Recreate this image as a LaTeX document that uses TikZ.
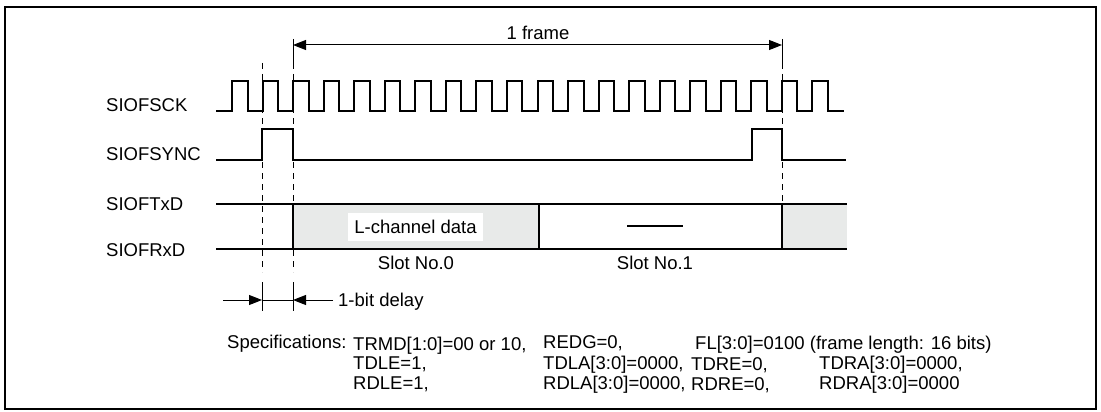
\documentclass[tikz,border=0pt]{standalone}
\usepackage{fontspec}
\setmainfont{Liberation Sans}
\usetikzlibrary{arrows.meta}
\definecolor{shadegray}{RGB}{232,234,233}
\begin{document}
\begin{tikzpicture}[x=1pt,y=-1pt,
  sig/.style={line width=2pt},
  thinline/.style={line width=1pt},
  dashline/.style={line width=1pt, dash pattern=on 6pt off 5pt},
  dimarrow/.style={line width=1pt, -{Triangle[length=13pt,width=10pt]}},
  lbl/.style={font=\fontsize{18.5pt}{20pt}\selectfont, inner sep=0pt, anchor=base west},
  lblc/.style={font=\fontsize{18.5pt}{20pt}\selectfont, inner sep=0pt, anchor=base},
]
\useasboundingbox (0,0) rectangle (1101,412);
\draw[line width=2pt] (5,7) rectangle (1096,409);

% signal names
\node[lbl] (nsck)  at (106,111.5) {SIOFSCK};
\node[lbl] (nsync) at (106,160.5) {SIOFSYNC};
\node[lbl] (ntxd)  at (106,210) {SIOFTxD};
\node[lbl] (nrxd)  at (106,256) {SIOFRxD};

% frame dimension
\coordinate (fL) at (293,45);
\coordinate (fR) at (782,45);
\draw[line width=1pt, {Triangle[length=13pt,width=10pt]}-{Triangle[length=13pt,width=10pt]}] (fL) -- (fR);
\node[lblc] (nframe) at (538,40) {1 frame};
\draw[thinline] (293,39) -- (293,63);
\draw[thinline] (782,39) -- (782,63);

% dashed guides
\draw[dashline] (262,63) -- (262,272);
\draw[dashline] (293,63) -- (293,272);
\draw[dashline] (782,63) -- (782,204);

% clock
\draw[sig] (216,111)
  \foreach \k in {0,...,19} { -- ({232+30.55*\k},111) -- ({232+30.55*\k},81) -- ({247.5+30.55*\k},81) -- ({247.5+30.55*\k},111) }
  -- (844,111);

% sync
\draw[sig] (216,160) -- (262,160) -- (262,129) -- (293,129) -- (293,160) -- (752,160) -- (752,129) -- (782,129) -- (782,160) -- (846,160);

% data
\fill[shadegray] (293,204) rectangle (539,249);
\fill[shadegray] (782,204) rectangle (847,249);
\draw[sig] (216,204) -- (847,204);
\draw[sig] (216,249) -- (847,249);
\draw[sig] (293,204) -- (293,249);
\draw[sig] (539,204) -- (539,249);
\draw[sig] (782,204) -- (782,249);
\node[fill=white, minimum width=135pt, minimum height=28pt, inner sep=0pt, text height=13.5pt, text depth=0pt,
      font=\fontsize{18.5pt}{20pt}\selectfont] (ldata) at (415.5,227) {L-channel data};
\draw[sig] (627,226) -- (683,226);
\node[lblc] (slot0) at (416,269) {Slot No.0};
\node[lblc] (slot1) at (655,269) {Slot No.1};

% 1-bit delay
\draw[thinline] (262,282) -- (262,311);
\draw[thinline] (293,282) -- (293,311);
\coordinate (d0) at (223,300);
\coordinate (d1) at (262,300);
\coordinate (d2) at (293,300);
\coordinate (d3) at (333,300);
\draw[dimarrow] (d0) -- (d1);
\draw[thinline] (d1) -- (d2);
\draw[dimarrow] (d3) -- (d2);
\node[lbl] (delay) at (338,306.5) {1-bit delay};

% specifications
\node[lbl] (spec) at (227,348) {Specifications:};
\node[lbl] (s11) at (353,350) {TRMD[1:0]=00 or 10,};
\node[lbl] (s21) at (353,369) {TDLE=1,};
\node[lbl] (s31) at (353,389) {RDLE=1,};
\node[lbl] (s12) at (543,348) {REDG=0,};
\node[lbl] (s22) at (543,369) {TDLA[3:0]=0000,};
\node[lbl] (s32) at (543,389) {RDLA[3:0]=0000,};
\node[lbl] (s13) at (695,349) {FL[3:0]=0100 (frame length: 16 bits)};
\node[lbl] (s23) at (691,370) {TDRE=0,};
\node[lbl] (s33) at (691,390) {RDRE=0,};
\node[lbl] (s24) at (819,369) {TDRA[3:0]=0000,};
\node[lbl] (s34) at (819,389) {RDRA[3:0]=0000};
\end{tikzpicture}
\end{document}
